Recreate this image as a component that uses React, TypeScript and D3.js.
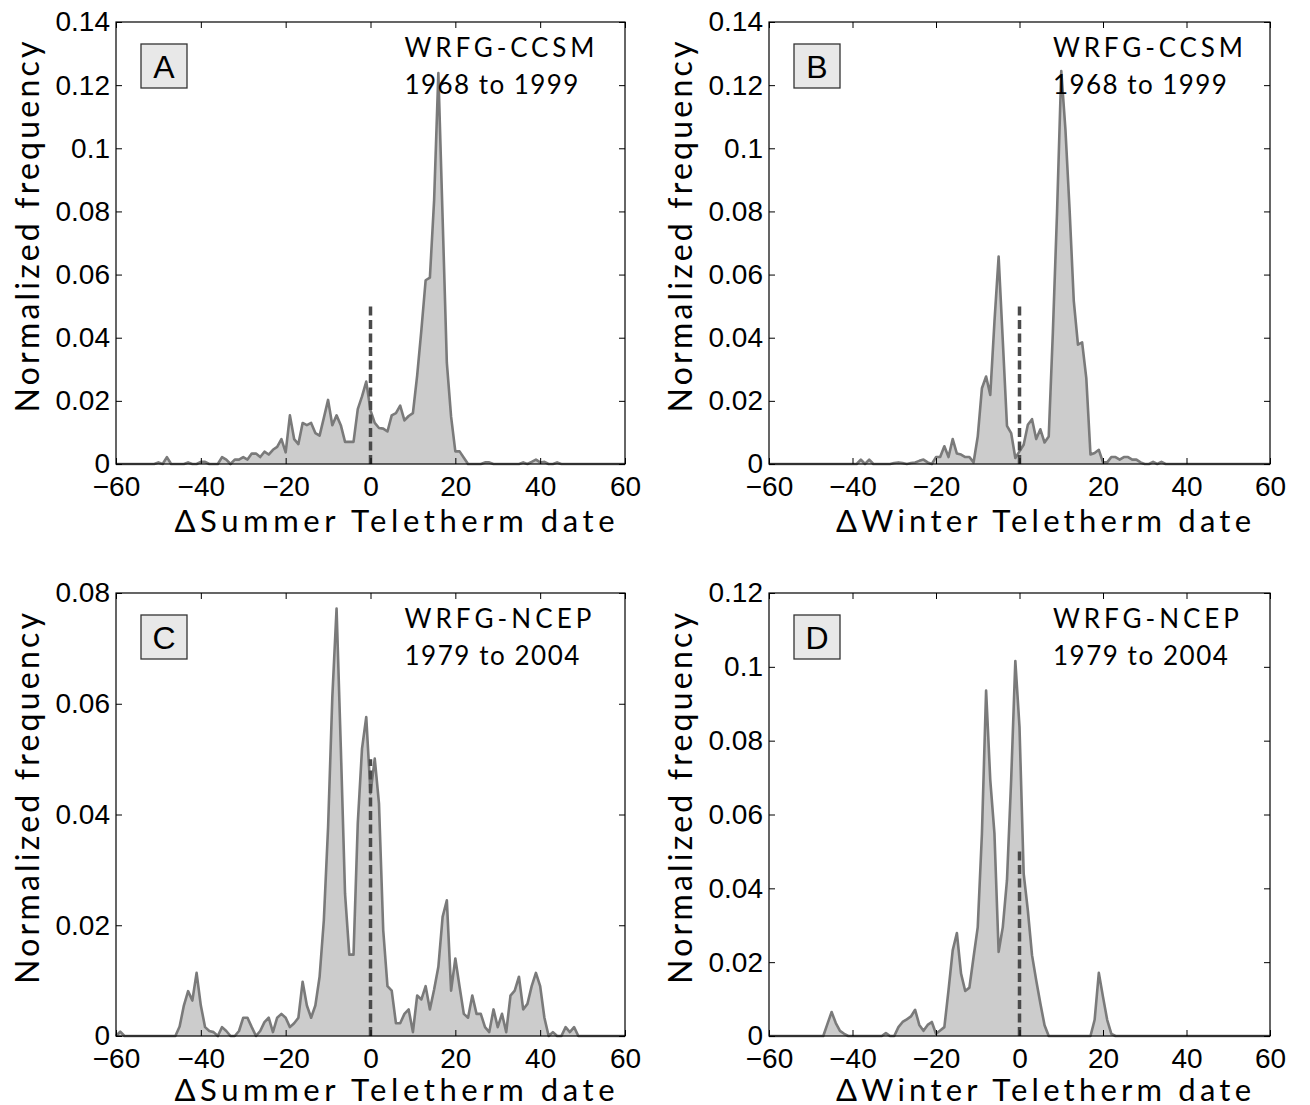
import { useEffect, useRef } from 'react';
import * as d3 from 'd3';

// normalized frequency per day offset, from -60 to 60 days
const summerCCSM = [
  0, 0, 0, 0, 0, 0, 0, 0, 0, 0,
  0.0005, 0, 0.0022, 0, 0, 0, 0, 0.0005, 0, 0,
  0.0007, 0.0007, 0, 0, 0, 0.0022, 0.0014, 0, 0.0014, 0.0014,
  0.0022, 0.0014, 0.0033, 0.0033, 0.0022, 0.0039, 0.003, 0.0045, 0.0054, 0.0079,
  0.0037, 0.0154, 0.0079, 0.0063, 0.013, 0.0123, 0.013, 0.0098, 0.009, 0.0146,
  0.0203, 0.0123, 0.0154, 0.0123, 0.007, 0.007, 0.007, 0.0174, 0.0214, 0.0261,
  0.017, 0.013, 0.0114, 0.0112, 0.0103, 0.0154, 0.0161, 0.0185, 0.0138, 0.0152,
  0.0161, 0.028, 0.0425, 0.0582, 0.059, 0.0836, 0.1238, 0.078, 0.032, 0.015,
  0.004, 0.004, 0.002, 0, 0, 0, 0, 0.0005, 0.0005, 0,
  0, 0, 0, 0, 0, 0, 0.0005, 0, 0.0007, 0.0014,
  0.0005, 0.0007, 0, 0, 0.0005, 0, 0, 0, 0, 0,
  0, 0, 0, 0, 0, 0, 0, 0, 0, 0, 0,
];

const winterCCSM = [
  0, 0, 0, 0, 0, 0, 0, 0, 0, 0,
  0, 0, 0, 0, 0, 0, 0, 0, 0, 0,
  0, 0, 0.0014, 0, 0.0014, 0, 0, 0, 0, 0,
  0.0003, 0.0005, 0.0003, 0, 0.0003, 0.0005, 0.001, 0.0014, 0.0005, 0,
  0.0022, 0.0022, 0.0056, 0.0022, 0.0079, 0.0033, 0.003, 0.0022, 0.0022, 0.0005,
  0.0087, 0.024, 0.0277, 0.0219, 0.045, 0.0657, 0.039, 0.0121, 0.0098, 0.0019,
  0.004, 0.0061, 0.0124, 0.0142, 0.0079, 0.011, 0.0068, 0.0087, 0.042, 0.08,
  0.1245, 0.106, 0.0805, 0.0517, 0.0378, 0.0385, 0.0272, 0.003, 0.0035, 0.0045,
  0.0005, 0.0005, 0.0022, 0.0022, 0.0014, 0.0022, 0.0022, 0.0014, 0.0014, 0.0005,
  0, 0, 0.0007, 0, 0.0007, 0, 0, 0, 0, 0,
  0, 0, 0, 0, 0, 0, 0, 0, 0, 0,
  0, 0, 0, 0, 0, 0, 0, 0, 0, 0, 0,
];

const summerNCEP = [
  0, 0.0008, 0, 0, 0, 0, 0, 0, 0, 0,
  0, 0, 0, 0, 0, 0.0017, 0.0055, 0.0081, 0.0064, 0.0114,
  0.0055, 0.0016, 0.0009, 0.0007, 0, 0.0016, 0.0009, 0, 0, 0.0009,
  0.0033, 0.0033, 0.0016, 0, 0.0009, 0.0025, 0.0033, 0.0007, 0.0033, 0.004,
  0.0033, 0.0016, 0.0023, 0.0033, 0.0098, 0.0055, 0.0033, 0.0055, 0.0107, 0.0209,
  0.0377, 0.0612, 0.0772, 0.0522, 0.0257, 0.0147, 0.0147, 0.0384, 0.0519, 0.0576,
  0.0438, 0.0501, 0.042, 0.0191, 0.009, 0.0082, 0.0023, 0.0023, 0.004, 0.0048,
  0.0007, 0.0073, 0.0066, 0.009, 0.0048, 0.0084, 0.0125, 0.0215, 0.0245, 0.0082,
  0.014, 0.0089, 0.004, 0.0033, 0.0073, 0.004, 0.004, 0.0016, 0.0007, 0.0048,
  0.0016, 0.004, 0.0007, 0.0073, 0.0082, 0.0107, 0.0048, 0.0058, 0.009, 0.0114,
  0.009, 0.0033, 0, 0.0007, 0, 0, 0.0016, 0.0007, 0.0016, 0,
  0, 0, 0, 0, 0, 0, 0, 0, 0, 0, 0,
];

const winterNCEP = [
  0, 0, 0, 0, 0, 0, 0, 0, 0, 0,
  0, 0, 0, 0, 0.0033, 0.0065, 0.0035, 0.0014, 0.0006, 0,
  0, 0, 0, 0, 0, 0, 0, 0, 0.0008, 0,
  0, 0.0024, 0.0038, 0.0045, 0.0053, 0.0071, 0.003, 0.0014, 0.003, 0.0038,
  0.0006, 0.0015, 0.0024, 0.0124, 0.0232, 0.0279, 0.0169, 0.0122, 0.0131, 0.0214,
  0.0295, 0.0548, 0.0936, 0.0693, 0.0548, 0.0228, 0.0295, 0.0422, 0.0693, 0.1016,
  0.0837, 0.044, 0.034, 0.0219, 0.0151, 0.0088, 0.0029, 0, 0, 0,
  0, 0, 0, 0, 0, 0, 0, 0, 0.0044, 0.0171,
  0.0106, 0.0044, 0.0006, 0, 0, 0, 0, 0, 0, 0,
  0, 0, 0, 0, 0, 0, 0, 0, 0, 0,
  0, 0, 0, 0, 0, 0, 0, 0, 0, 0,
  0, 0, 0, 0, 0, 0, 0, 0, 0, 0, 0,
];

const firstDay = -60;
const xTicks = [-60, -40, -20, 0, 20, 40, 60];
const yTicksCCSM = [0, 0.02, 0.04, 0.06, 0.08, 0.1, 0.12, 0.14];
const yTicksSummerNCEP = [0, 0.02, 0.04, 0.06, 0.08];
const yTicksWinterNCEP = [0, 0.02, 0.04, 0.06, 0.08, 0.1, 0.12];
const letters = ['A', 'B', 'C', 'D'];
const models = ['WRFG-CCSM', 'WRFG-CCSM', 'WRFG-NCEP', 'WRFG-NCEP'];
const periods = ['1968 to 1999', '1968 to 1999', '1979 to 2004', '1979 to 2004'];
const xLabels = ['\u0394Summer Teletherm date', '\u0394Winter Teletherm date', '\u0394Summer Teletherm date', '\u0394Winter Teletherm date'];
const yLabel = 'Normalized frequency';
const markerTop = 0.05;

const series = [summerCCSM, winterCCSM, summerNCEP, winterNCEP];
const yTickSets = [yTicksCCSM, yTicksCCSM, yTicksSummerNCEP, yTicksWinterNCEP];

// pixel layout of the four axes boxes
const boxes = [
  { left: 116, top: 22, width: 509, height: 442, xLabelLen: 440, xLabelDrop: 68, model: 190, period: 174 },
  { left: 769, top: 22, width: 501, height: 442, xLabelLen: 415, xLabelDrop: 68, model: 190, period: 174 },
  { left: 116, top: 593, width: 509, height: 443, xLabelLen: 440, xLabelDrop: 65, model: 187, period: 175 },
  { left: 769, top: 593, width: 501, height: 443, xLabelLen: 415, xLabelDrop: 65, model: 186, period: 175 },
];

const tickFont = '"Liberation Sans", Arial, sans-serif';
const labelFont = 'Lato, "Open Sans", sans-serif';

export default function App() {
  const svgRef = useRef<SVGSVGElement>(null);

  useEffect(() => {
    const svg = d3.select(svgRef.current);
    svg.selectAll('*').remove();

    series.forEach((values, i) => {
      const b = boxes[i];
      const ticks = yTickSets[i];
      const yMax = ticks[ticks.length - 1];
      const pts = values.map((v, k) => ({ day: firstDay + k, v }));

      const x = d3.scaleLinear().domain([-60, 60]).range([0, b.width]);
      const y = d3.scaleLinear().domain([0, yMax]).range([b.height, 0]);

      const g = svg.append('g').attr('transform', `translate(${b.left},${b.top})`);

      const area = d3.area<{ day: number; v: number }>()
        .x(d => x(d.day))
        .y0(y(0))
        .y1(d => y(d.v));
      const line = d3.line<{ day: number; v: number }>()
        .x(d => x(d.day))
        .y(d => y(d.v));

      g.append('path').attr('d', area(pts)).attr('fill', '#cccccc');
      g.append('path')
        .attr('d', line(pts))
        .attr('fill', 'none')
        .attr('stroke', '#7a7a7a')
        .attr('stroke-width', 2.6)
        .attr('stroke-linejoin', 'round');

      // zero-shift marker
      g.append('line')
        .attr('x1', x(0)).attr('x2', x(0))
        .attr('y1', y(0)).attr('y2', y(markerTop))
        .attr('stroke', '#4a4a4a')
        .attr('stroke-width', 3.5)
        .attr('stroke-dasharray', '9,4.5');

      const fmtX = (d: d3.NumberValue) => (+d < 0 ? '\u2212' + Math.abs(+d) : String(d));
      const fmtY = (d: d3.NumberValue) => String(+(+d).toFixed(2));

      const styleAxis = (sel: d3.Selection<SVGGElement, unknown, null, undefined>) => {
        sel.select('.domain').remove();
        sel.selectAll('.tick line').attr('stroke', '#000').attr('stroke-width', 1);
        sel.selectAll('.tick text')
          .attr('fill', '#000')
          .attr('font-family', tickFont)
          .attr('font-size', 28);
      };

      g.append('g')
        .attr('transform', `translate(0,${b.height})`)
        .call(d3.axisBottom(x).tickValues(xTicks).tickFormat(fmtX).tickSizeInner(-6).tickSizeOuter(0).tickPadding(12))
        .call(styleAxis);
      g.append('g')
        .call(d3.axisTop(x).tickValues(xTicks).tickFormat(() => '').tickSizeInner(-6).tickSizeOuter(0))
        .call(styleAxis);
      g.append('g')
        .call(d3.axisLeft(y).tickValues(ticks).tickFormat(fmtY).tickSizeInner(-6).tickSizeOuter(0).tickPadding(6))
        .call(styleAxis);
      g.append('g')
        .attr('transform', `translate(${b.width},0)`)
        .call(d3.axisRight(y).tickValues(ticks).tickFormat(() => '').tickSizeInner(-6).tickSizeOuter(0))
        .call(styleAxis);

      g.append('rect')
        .attr('width', b.width).attr('height', b.height)
        .attr('fill', 'none').attr('stroke', '#000').attr('stroke-width', 1.2);

      // panel letter
      g.append('rect')
        .attr('x', 25).attr('y', 22).attr('width', 46).attr('height', 44)
        .attr('fill', '#e8e8e8').attr('stroke', '#333').attr('stroke-width', 1.3);
      g.append('text')
        .attr('x', 48).attr('y', 56)
        .attr('text-anchor', 'middle')
        .attr('font-family', tickFont)
        .attr('font-size', 32)
        .text(letters[i]);

      const noteX = x(8);
      g.append('text')
        .attr('x', noteX).attr('y', 35)
        .attr('font-family', labelFont).attr('font-size', 26)
        .attr('textLength', b.model).attr('lengthAdjust', 'spacing')
        .text(models[i]);
      g.append('text')
        .attr('x', noteX).attr('y', 72)
        .attr('font-family', labelFont).attr('font-size', 26)
        .attr('textLength', b.period).attr('lengthAdjust', 'spacing')
        .text(periods[i]);

      g.append('text')
        .attr('x', b.width / 2 + 24 - b.xLabelLen / 2)
        .attr('y', b.height + b.xLabelDrop)
        .attr('font-family', labelFont).attr('font-size', 31)
        .attr('textLength', b.xLabelLen).attr('lengthAdjust', 'spacing')
        .text(xLabels[i]);

      g.append('text')
        .attr('transform', `translate(-77,${b.height / 2 - 16 + 371 / 2}) rotate(-90)`)
        .attr('font-family', labelFont).attr('font-size', 32)
        .attr('textLength', 371).attr('lengthAdjust', 'spacing')
        .text(yLabel);
    });
  }, []);

  return (
    <div style={{ position: 'absolute', left: 0, top: 0 }}>
      <svg ref={svgRef} width={1310} height={1105} style={{ display: 'block', background: '#fff' }} />
    </div>
  );
}
